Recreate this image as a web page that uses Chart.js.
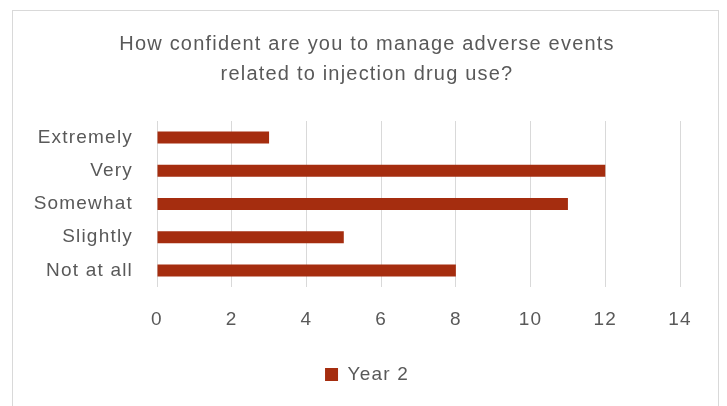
<!DOCTYPE html>
<html lang="en">
<head>
    <meta charset="UTF-8">
    <script src="https://cdn.jsdelivr.net/npm/chart.js"></script>
    <title>Confidence chart</title>
    <style>
        body { margin: 0; background: #fff; }
        #wrap { position: relative; width: 727px; height: 406px; overflow: hidden; }
        #frame { position: absolute; left: 12px; top: 10px; width: 705px; height: 420px; border: 1px solid #d9d9d9; }
        canvas { position: absolute; left: 0; top: 0; }
    </style>
</head>
<body>
    <div id="wrap">
        <div id="frame"></div>
        <canvas id="barChart" width="727" height="406"></canvas>
    </div>
    <script>
        // data
        const categories = ['Extremely', 'Very', 'Somewhat', 'Slightly', 'Not at all'];
        const year2 = [3, 12, 11, 5, 8];
        const xTicks = [0, 2, 4, 6, 8, 10, 12, 14];

        const textColor = '#595959';
        const fontFamily = "'Liberation Sans', Arial, sans-serif";

        // giãn chữ cho giống bản gốc
        const spacing = {
            id: 'spacing',
            beforeLayout(chart) { chart.ctx.letterSpacing = '1.2px'; },
            beforeDraw(chart) { chart.ctx.letterSpacing = '1.2px'; }
        };

        new Chart(document.getElementById('barChart'), {
            type: 'bar',
            data: {
                labels: categories,
                datasets: [{
                    label: 'Year 2',
                    data: year2,
                    backgroundColor: '#A52D0F',
                    barPercentage: 0.72,
                    categoryPercentage: 0.5
                }]
            },
            options: {
                indexAxis: 'y',
                responsive: false,
                animation: false,
                layout: { padding: { left: 27, right: 20, top: 0, bottom: 12 } },
                scales: {
                    x: {
                        min: 0,
                        max: 14,
                        afterBuildTicks: axis => { axis.ticks = xTicks.map(v => ({ value: v })); },
                        afterFit: axis => { axis.height = 68; },
                        grid: { color: '#d9d9d9', drawTicks: false },
                        border: { display: false },
                        ticks: { color: textColor, padding: 21, font: { family: fontFamily, size: 19 } }
                    },
                    y: {
                        afterFit: axis => { axis.width = 130; },
                        grid: { display: false, drawTicks: false },
                        border: { display: false },
                        ticks: { color: textColor, padding: 24, font: { family: fontFamily, size: 19 } }
                    },
                    // trục trống bên phải để giữ khoảng trống
                    yRight: {
                        type: 'category',
                        position: 'right',
                        afterFit: axis => { axis.width = 27; },
                        grid: { display: false, drawTicks: false },
                        border: { display: false },
                        ticks: { display: false }
                    }
                },
                plugins: {
                    title: {
                        display: true,
                        text: ['How confident are you to manage adverse events', 'related to injection drug use?'],
                        color: textColor,
                        font: { family: fontFamily, size: 20, weight: 'normal', lineHeight: 1.5 },
                        padding: { top: 29, bottom: 32 }
                    },
                    legend: {
                        position: 'bottom',
                        labels: {
                            color: textColor,
                            boxWidth: 13,
                            boxHeight: 13,
                            padding: 10,
                            font: { family: fontFamily, size: 19 }
                        }
                    },
                    tooltip: { enabled: false }
                }
            },
            plugins: [spacing]
        });
    </script>
</body>
</html>
